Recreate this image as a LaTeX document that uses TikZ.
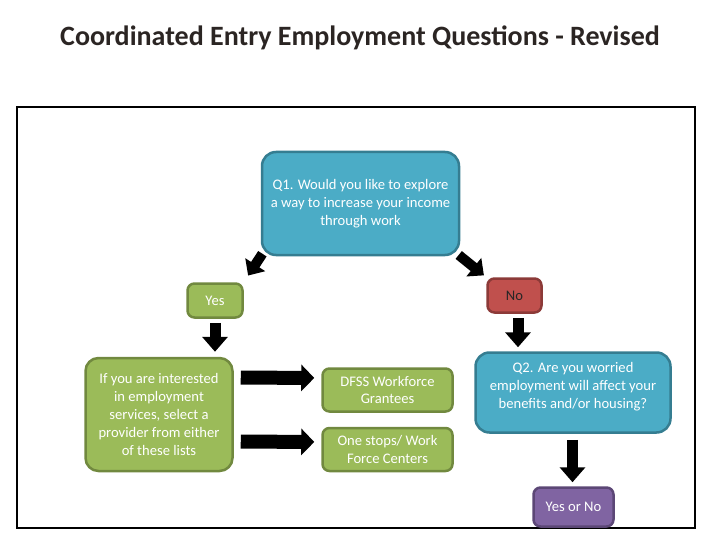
\documentclass[tikz,border=0pt]{standalone}
\usepackage{fontspec}
\setmainfont{Carlito}
\usetikzlibrary{arrows.meta,backgrounds}
\definecolor{tealf}{HTML}{4BACC6}
\definecolor{tealb}{HTML}{357D91}
\definecolor{greenf}{HTML}{9BBB59}
\definecolor{greenb}{HTML}{71893F}
\definecolor{redf}{HTML}{C0504D}
\definecolor{redb}{HTML}{8C3A38}
\definecolor{purf}{HTML}{8064A2}
\definecolor{purb}{HTML}{5C4776}
\definecolor{titlec}{HTML}{2B2523}
\tikzset{
  box/.style={rounded corners=7pt, line width=2.5pt, align=center, text=white,
    font=\fontsize{14.6}{17.8}\selectfont, inner sep=0pt},
  qbox/.style={box, fill=tealf, draw=tealb, rounded corners=14pt},
  gbox/.style={box, fill=greenf, draw=greenb},
  vblk/.style={line width=11pt, -{Triangle[length=15pt,width=25pt]}},
  hblk/.style={line width=14pt, -{Triangle[length=13pt,width=26pt]}},
  dblk/.style={line width=10pt, -{Triangle[length=13pt,width=23pt]}},
}
\begin{document}
\begin{tikzpicture}[x=1pt,y=-1pt]
\useasboundingbox (0,0) rectangle (720,540);
\node[font=\fontsize{28}{32}\selectfont\bfseries, text=titlec] (title) at (360,38) {Coordinated Entry Employment Questions - Revised};
\draw[line width=1.5pt] (17,107) rectangle (695,528);

\node[qbox, minimum width=197pt, minimum height=103pt] (q1) at (360.5,203.5)
  {Q1. Would you like to explore\\a way to increase your income\\through work};
\node[gbox, minimum width=55pt, minimum height=34pt] (yes) at (215,300.5) {Yes};
\node[box, fill=redf, draw=redb, text=black!85, minimum width=54pt, minimum height=34pt] (no) at (514.5,295.5) {No};
\node[gbox, minimum width=147pt, minimum height=113pt, rounded corners=13pt] (big) at (159,414.5)
  {If you are interested\\in employment\\services, select a\\provider from either\\of these lists};
\node[gbox, minimum width=130pt, minimum height=43pt] (dfss) at (387.5,390)
  {DFSS Workforce\\Grantees};
\node[gbox, minimum width=130pt, minimum height=43pt] (one) at (387.5,449.5)
  {One stops/ Work\\Force Centers};
\node[qbox, minimum width=195pt, minimum height=80pt, text depth=14pt] (q2) at (573,392.5)
  {Q2. Are you worried\\employment will affect your\\benefits and/or housing?};
\node[box, fill=purf, draw=purb, minimum width=80pt, minimum height=39pt] (yn) at (573.5,507)
  {Yes or No};

\begin{scope}[on background layer]
\draw[dblk, shorten <=-3pt, shorten >=8pt] (q1.south west) -- (yes.north east);
\draw[dblk, shorten <=-2pt, shorten >=3pt] (q1.south east) -- (no.north west);
\end{scope}
\draw[vblk, shorten <=4pt, shorten >=5pt] (yes.south) -- (yes.south |- big.north);
\draw[vblk, shorten <=4pt, shorten >=4pt] ([xshift=3.5pt]no.south) -- ([xshift=3.5pt]no.south |- q2.north);
\draw[vblk, shorten <=6pt, shorten >=4pt] ([xshift=-0.5pt]q2.south) -- ([xshift=-0.5pt]q2.south |- yn.north);
\draw[hblk, shorten <=7pt, shorten >=7pt] ([yshift=37pt]big.east) -- ([yshift=12pt]dfss.west);
\draw[hblk, shorten <=7pt, shorten >=7pt] ([yshift=-27pt]big.east) -- ([yshift=7.5pt]one.west);
\end{tikzpicture}
\end{document}
